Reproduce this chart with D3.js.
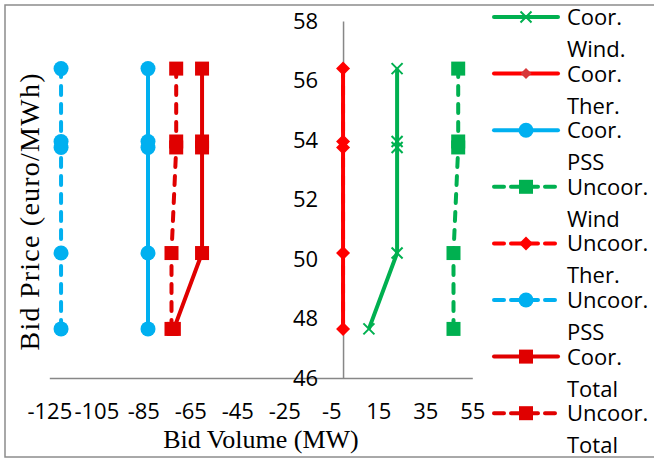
<!DOCTYPE html>
<html>
<head>
<meta charset="utf-8">
<script src="https://cdn.jsdelivr.net/npm/d3@7"></script>
<style>
  body { margin: 0; background: #fff; }
  svg { display: block; }
</style>
</head>
<body>
<div id="chart"></div>
<script>
var svgWidth = 654;
var svgHeight = 459;

// bid prices (euro/MWh), shared by every series
var prices = [47.65, 50.2, 53.75, 53.95, 56.4];
// bid volumes (MW) per series
var coorWind = [11, 23, 23, 23, 23];
var coorTher = [0, 0, 0, 0, 0];
var coorPSS = [-83, -83, -83, -83, -83];
var uncoorWind = [47, 47, 49, 49, 49];
var uncoorTher = [0, 0, 0, 0, 0];
var uncoorPSS = [-120, -120, -120, -120, -120];
var coorTotal = [-72, -60, -60, -60, -60];
var uncoorTotal = [-73, -73, -71, -71, -71];

var xTicks = [-125, -105, -85, -65, -45, -25, -5, 15, 35, 55];
var yTicks = [46, 48, 50, 52, 54, 56, 58];
var legendNames = [["Coor.", "Wind."], ["Coor.", "Ther."], ["Coor.", "PSS"], ["Uncoor.", "Wind"],
  ["Uncoor.", "Ther."], ["Uncoor.", "PSS"], ["Coor.", "Total"], ["Uncoor.", "Total"]];

var green = "#00B050", red = "#FF0000", blue = "#00B0F0", darkRed = "#E00000";

var series = [
  {values: coorWind, color: green, dash: null, marker: "x"},
  {values: coorTher, color: red, dash: null, marker: "diamondSmall"},
  {values: coorPSS, color: blue, dash: null, marker: "circle"},
  {values: uncoorWind, color: green, dash: "9,9", marker: "square"},
  {values: uncoorTher, color: red, dash: "9,9", marker: "diamond"},
  {values: uncoorPSS, color: blue, dash: "9,9", marker: "circle"},
  {values: coorTotal, color: darkRed, dash: null, marker: "square"},
  {values: uncoorTotal, color: darkRed, dash: "9,9", marker: "square"}
];

var svg = d3.select("#chart").append("svg")
  .attr("width", svgWidth)
  .attr("height", svgHeight);

// outer chart border (runs off the right edge like the original)
svg.append("rect")
  .attr("x", 5).attr("y", 5)
  .attr("width", 680).attr("height", 452)
  .attr("fill", "none")
  .attr("stroke", "#8c8c8c")
  .attr("stroke-width", 1.5);

var xScale = d3.scaleLinear().domain([-125, 55]).range([49.3, 472.3]);
var yScale = d3.scaleLinear().domain([46, 58]).range([378, 21]);

var tickFont = "'Open Sans', sans-serif";

// x axis
var xAxis = svg.append("g")
  .attr("transform", `translate(0, ${yScale(46)})`)
  .call(d3.axisBottom(xScale).tickValues(xTicks).tickSize(0).tickSizeOuter(0).tickFormat(d => String(d)));
xAxis.select(".domain").attr("stroke", "#878787").attr("stroke-width", 1.5);
xAxis.selectAll("text")
  .attr("y", 41).attr("dy", 0)
  .attr("fill", "#000")
  .style("font-family", tickFont)
  .style("font-size", "22px");

// y axis crosses at x = 0
var yAxis = svg.append("g")
  .attr("transform", `translate(${xScale(0)}, 0)`)
  .call(d3.axisLeft(yScale).tickValues(yTicks).tickSize(0).tickSizeOuter(0).tickPadding(25));
yAxis.select(".domain").attr("stroke", "#878787").attr("stroke-width", 1.5);
yAxis.selectAll("text")
  .attr("fill", "#000")
  .style("font-family", tickFont)
  .style("font-size", "22px");

// axis titles
svg.append("text")
  .attr("x", 261).attr("y", 448)
  .attr("text-anchor", "middle")
  .style("font-family", "'Liberation Serif', 'Times New Roman', serif")
  .style("font-size", "26px")
  .text("Bid Volume (MW)");

svg.append("text")
  .attr("transform", "translate(39, 212) rotate(-90)")
  .attr("text-anchor", "middle")
  .attr("textLength", 277)
  .style("font-family", "'Liberation Serif', 'Times New Roman', serif")
  .style("font-size", "28px")
  .text("Bid Price (euro/MWh)");

function drawMarker(g, type, cx, cy, color) {
  if (type === "circle") {
    g.append("circle").attr("cx", cx).attr("cy", cy).attr("r", 7.5).attr("fill", color);
  } else if (type === "square") {
    g.append("rect").attr("x", cx - 7).attr("y", cy - 7).attr("width", 14).attr("height", 14).attr("fill", color);
  } else if (type === "diamond" || type === "diamondSmall") {
    var s = type === "diamond" ? 7 : 5.5;
    g.append("path")
      .attr("d", `M${cx},${cy - s}L${cx + s},${cy}L${cx},${cy + s}L${cx - s},${cy}Z`)
      .attr("fill", type === "diamond" ? color : "#D8383A");
  } else if (type === "x") {
    var h = 5.5;
    g.append("path")
      .attr("d", `M${cx - h},${cy - h}L${cx + h},${cy + h}M${cx - h},${cy + h}L${cx + h},${cy - h}`)
      .attr("stroke", color).attr("stroke-width", 2).attr("fill", "none");
  }
}

var line = d3.line()
  .x(d => xScale(d.v))
  .y(d => yScale(d.p));

var plot = svg.append("g");
series.forEach(function(s) {
  var pts = s.values.map((v, i) => ({v: v, p: prices[i]}));
  var g = plot.append("g");
  g.append("path")
    .datum(pts)
    .attr("d", line)
    .attr("fill", "none")
    .attr("stroke", s.color)
    .attr("stroke-width", 4)
    .attr("stroke-linecap", s.dash ? "round" : "butt")
    .attr("stroke-dasharray", s.dash);
  pts.forEach(function(d) {
    drawMarker(g, s.marker, xScale(d.v), yScale(d.p), s.color);
  });
});

// legend
var legend = svg.append("g");
series.forEach(function(s, i) {
  var ly = 17 + i * 56.6;
  var g = legend.append("g");
  g.append("line")
    .attr("x1", 494).attr("x2", 558)
    .attr("y1", ly).attr("y2", ly)
    .attr("stroke", s.color)
    .attr("stroke-width", 4)
    .attr("stroke-linecap", "round")
    .attr("stroke-dasharray", s.dash ? "10,7" : null);
  drawMarker(g, s.marker, 526, ly, s.color);
  legendNames[i].forEach(function(t, j) {
    g.append("text")
      .attr("x", 567)
      .attr("y", ly + 8 + j * 32)
      .style("font-family", tickFont)
      .style("font-size", "22px")
      .text(t);
  });
});
</script>
</body>
</html>
